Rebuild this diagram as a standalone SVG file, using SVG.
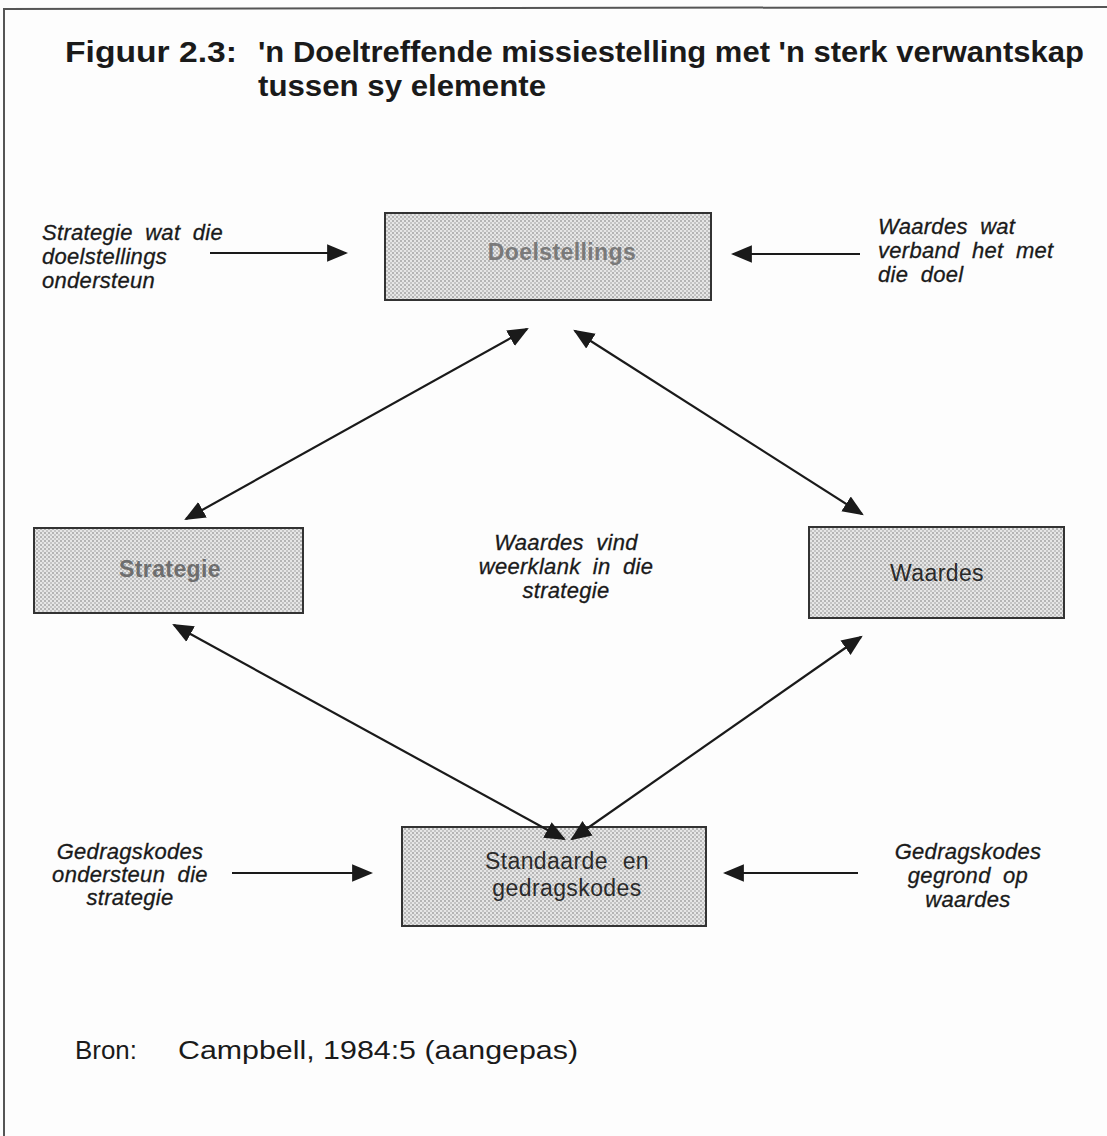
<svg xmlns="http://www.w3.org/2000/svg" width="1107" height="1136" viewBox="0 0 1107 1136">
  <defs>
    <pattern id="dots" width="4" height="4" patternUnits="userSpaceOnUse">
      <rect width="4" height="4" fill="#e6e6e6"/>
      <rect x="0" y="0" width="2" height="2" fill="#b4b4b4"/>
      <rect x="2" y="2" width="2" height="2" fill="#c4c4c4"/>
    </pattern>
    <marker id="head" viewBox="0 0 10 10" refX="9" refY="5" markerWidth="21" markerHeight="21" markerUnits="userSpaceOnUse" orient="auto-start-reverse">
      <path d="M0,0.8 L10,5 L0,9.2 Z" fill="#1a1a1a"/>
    </marker>
    <style>
      .frame { stroke: #555; stroke-width: 2; fill: none; }
      .box { fill: url(#dots); stroke: #333; stroke-width: 2; }
      .title { font-family: "Liberation Sans", Arial, sans-serif; font-weight: bold; font-size: 29px; fill: #1a1a1a; }
      .label { font-family: "Liberation Sans", Arial, sans-serif; font-style: italic; font-size: 22px; letter-spacing: 0.3px; word-spacing: 6px; fill: #1a1a1a; stroke: #1a1a1a; stroke-width: 0.3; }
      .node { font-family: "Liberation Sans", Arial, sans-serif; font-size: 23px; letter-spacing: 0.4px; text-anchor: middle; }
      .conn { stroke: #1a1a1a; stroke-width: 2.2; fill: none; }
      .src { font-family: "Liberation Sans", Arial, sans-serif; font-size: 26px; fill: #1a1a1a; }
    </style>
  </defs>

  <rect width="1107" height="1136" fill="#fdfdfd"/>
  <!-- page frame: top and left rules -->
  <path class="frame" d="M4,1136 L4,9 L1107,7"/>

  <!-- heading -->
  <text class="title" x="65" y="62" textLength="172" lengthAdjust="spacingAndGlyphs">Figuur 2.3:</text>
  <text class="title" x="258" y="62" textLength="826" lengthAdjust="spacingAndGlyphs">'n Doeltreffende missiestelling met 'n sterk verwantskap</text>
  <text class="title" x="258" y="96" textLength="288" lengthAdjust="spacingAndGlyphs">tussen sy elemente</text>

  <!-- nodes -->
  <g id="doelstellings">
    <rect class="box" x="385" y="213" width="326" height="87"/>
    <text class="node" x="562" y="260" fill="#7a7a7a" font-weight="bold" font-size="22">Doelstellings</text>
  </g>
  <g id="strategie">
    <rect class="box" x="34" y="528" width="269" height="85"/>
    <text class="node" x="170" y="577" fill="#6e6e6e" font-weight="bold">Strategie</text>
  </g>
  <g id="waardes">
    <rect class="box" x="809" y="527" width="255" height="91"/>
    <text class="node" x="937" y="581" fill="#2a2a2a">Waardes</text>
  </g>
  <g id="standaarde">
    <rect class="box" x="402" y="827" width="304" height="99"/>
    <text class="node" x="567" y="869" fill="#2a2a2a" font-size="24" word-spacing="8">Standaarde en</text>
    <text class="node" x="567" y="896" fill="#2a2a2a" font-size="24">gedragskodes</text>
  </g>

  <!-- connectors -->
  <g id="connectors">
    <line class="conn" x1="210" y1="253" x2="346" y2="253" marker-end="url(#head)"/>
    <line class="conn" x1="860" y1="254" x2="733" y2="254" marker-end="url(#head)"/>
    <line class="conn" x1="527" y1="329" x2="186" y2="519" marker-start="url(#head)" marker-end="url(#head)"/>
    <line class="conn" x1="575" y1="331" x2="862" y2="514" marker-start="url(#head)" marker-end="url(#head)"/>
    <line class="conn" x1="174" y1="625" x2="564" y2="839" marker-start="url(#head)" marker-end="url(#head)"/>
    <line class="conn" x1="861" y1="637" x2="572" y2="839" marker-start="url(#head)" marker-end="url(#head)"/>
    <line class="conn" x1="232" y1="873" x2="371" y2="873" marker-end="url(#head)"/>
    <line class="conn" x1="858" y1="873" x2="725" y2="873" marker-end="url(#head)"/>
  </g>

  <!-- edge labels -->
  <g id="labels">
    <text class="label" x="42" y="240">Strategie wat die</text>
    <text class="label" x="42" y="264">doelstellings</text>
    <text class="label" x="42" y="288">ondersteun</text>

    <text class="label" x="878" y="234">Waardes wat</text>
    <text class="label" x="878" y="258">verband het met</text>
    <text class="label" x="878" y="282">die doel</text>

    <g text-anchor="middle">
      <text class="label" x="566" y="550">Waardes vind</text>
      <text class="label" x="566" y="574">weerklank in die</text>
      <text class="label" x="566" y="598">strategie</text>

      <text class="label" x="130" y="859">Gedragskodes</text>
      <text class="label" x="130" y="882">ondersteun die</text>
      <text class="label" x="130" y="905">strategie</text>

      <text class="label" x="968" y="859">Gedragskodes</text>
      <text class="label" x="968" y="883">gegrond op</text>
      <text class="label" x="968" y="907">waardes</text>
    </g>
  </g>

  <!-- source note -->
  <text class="src" x="75" y="1059" textLength="62" lengthAdjust="spacingAndGlyphs">Bron:</text>
  <text class="src" x="178" y="1059" textLength="400" lengthAdjust="spacingAndGlyphs">Campbell, 1984:5 (aangepas)</text>
</svg>
